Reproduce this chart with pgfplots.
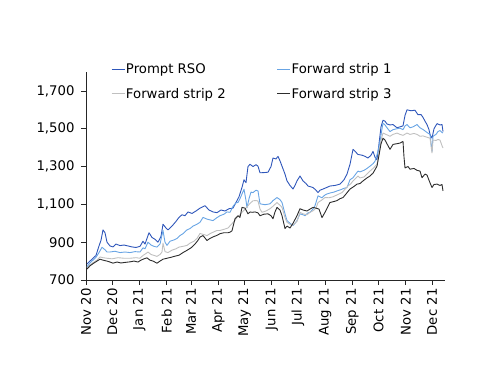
\documentclass[border=0pt]{standalone}
\usepackage{fontspec}
\setmainfont{DejaVu Sans}
\usepackage{pgfplots}
\pgfplotsset{compat=1.18}
\definecolor{rso}{RGB}{46,86,186}
\definecolor{fs1}{RGB}{104,164,228}
\definecolor{fs2}{RGB}{192,192,192}
\definecolor{fs3}{RGB}{45,45,45}
\begin{document}
\begin{tikzpicture}
\path[use as bounding box] (0,0) rectangle (500bp,386bp);
\begin{axis}[
  scale only axis, width=359bp, height=208bp,
  at={(86bp,106bp)}, anchor=south west,
  xmin=86, xmax=445, ymin=700, ymax=1800,
  axis x line*=bottom, axis y line*=left,
  axis line style={line width=0.8bp, black!85},
  tick align=outside, major tick length=5bp,
  tick style={line width=0.8bp, black!85},
  ytick={700,900,1100,1300,1500,1700},
  /pgf/number format/.cd, 1000 sep={,}, assume math mode=true, /pgfplots/.cd,
  xtick={86,112.3,139.4,166.6,191.1,218.3,244.6,271.7,298.0,325.1,352.3,378.6,405.7,432.0},
  xticklabels={Nov 20,Dec 20,Jan 21,Feb 21,Mar 21,Apr 21,May 21,Jun 21,Jul 21,Aug 21,Sep 21,Oct 21,Nov 21,Dec 21},
  tick label style={font=\fontsize{13.3}{15}\selectfont},
  xticklabel style={rotate=90, anchor=east},
  yticklabel style={xshift=-3bp},
  legend columns=2,
  legend cell align=left,
  legend style={draw=none, fill=none, at={(0.061,1.056)}, anchor=north west,
    font=\fontsize{13.3}{15}\selectfont, nodes={inner xsep=1bp, inner ysep=1bp},
    row sep=11bp, /tikz/every even column/.append style={column sep=50bp}},
  legend image code/.code={\draw[#1] (0bp,0bp) -- (13bp,0bp);},
  every axis plot/.append style={line width=0.9bp, line join=round},
]
\addplot[rso] coordinates {
(87,784)(90,800)(93,815)(96,830)(99,880)(101,910)(103,965)(105,950)(107,900)(110,880)
(113,875)(116,890)(120,882)(124,885)(128,880)(132,875)(136,872)(140,878)(143,905)(145,890)
(149,950)(152,925)(155,915)(158,900)(161,930)(163,995)(166,975)(168,965)(172,985)(176,1010)
(179,1031)(182,1045)(185,1040)(188,1060)(192,1052)(196,1065)(200,1080)(205,1093)(209,1070)(213,1060)
(217,1056)(221,1070)(225,1065)(229,1077)(233,1080)(236,1110)(239,1140)(242,1190)(244,1230)(246,1215)
(248,1300)(250,1312)(253,1300)(256,1310)(258,1302)(260,1267)(264,1268)(268,1270)(271,1300)(273,1345)
(276,1340)(278,1354)(280,1330)(282,1302)(285,1260)(287,1224)(290,1200)(293,1181)(295,1200)(297,1224)
(300,1250)(303,1224)(306,1210)(308,1197)(313,1189)(316,1175)(318,1162)(320,1175)(323,1181)(327,1190)
(330,1197)(335,1200)(340,1207)(344,1230)(347,1260)(350,1312)(353,1391)(356,1375)(358,1364)(362,1360)
(365,1354)(368,1345)(371,1360)(373,1380)(375,1350)(377,1335)(379,1420)(381,1510)(383,1545)(385,1540)
(387,1525)(390,1520)(393,1522)(397,1505)(400,1510)(403,1515)(405,1570)(407,1600)(411,1595)(415,1598)
(418,1574)(421,1575)(423,1560)(425,1540)(427,1522)(429,1495)(430,1470)(432,1450)(434,1500)(437,1527)
(440,1520)(442,1522)(443,1485)
};
\addlegendentry{Prompt RSO}
\addplot[fs1] coordinates {
(87,770)(90,790)(93,805)(96,820)(99,845)(102,873)(105,860)(107,848)(110,848)(115,852)
(120,845)(125,848)(130,845)(135,850)(140,848)(143,870)(145,865)(148,900)(151,885)(154,878)
(157,874)(160,890)(163,962)(165,900)(167,883)(170,905)(174,912)(177,920)(180,935)(183,945)
(187,965)(190,972)(193,985)(197,995)(200,1005)(203,1031)(207,1022)(210,1018)(213,1014)(217,1030)
(220,1040)(224,1048)(227,1060)(230,1058)(233,1090)(236,1108)(238,1110)(240,1130)(242,1155)(244,1180)
(246,1120)(247,1082)(249,1130)(251,1165)(253,1162)(256,1175)(258,1171)(260,1103)(265,1098)(270,1103)
(273,1120)(277,1136)(280,1125)(282,1110)(285,1050)(287,1014)(290,1000)(293,988)(295,1000)(297,1014)
(300,1050)(303,1045)(305,1040)(308,1055)(310,1058)(313,1075)(315,1093)(318,1145)(320,1140)(322,1135)
(325,1150)(327,1155)(330,1160)(334,1165)(337,1171)(341,1178)(344,1185)(347,1189)(350,1230)(353,1241)
(356,1262)(358,1276)(360,1272)(364,1280)(367,1290)(370,1302)(373,1315)(375,1328)(378,1380)(380,1433)
(382,1500)(383,1529)(385,1520)(387,1505)(390,1485)(393,1495)(397,1500)(400,1503)(403,1495)(405,1515)
(407,1522)(410,1505)(413,1510)(417,1522)(420,1505)(423,1496)(427,1480)(430,1470)(432,1380)(433,1460)
(436,1470)(438,1485)(440,1490)(442,1480)(443,1478)
};
\addlegendentry{Forward strip 1}
\addplot[fs2] coordinates {
(87,763)(90,780)(94,795)(97,805)(100,822)(103,818)(107,815)(112,812)(118,818)(124,815)
(130,815)(136,818)(140,815)(143,830)(146,840)(148,848)(151,835)(154,830)(157,825)(160,835)
(162,848)(163,895)(165,850)(168,845)(172,858)(176,865)(179,874)(183,878)(187,883)(190,895)
(194,905)(197,920)(200,946)(204,940)(207,935)(210,945)(214,955)(217,962)(220,962)(224,968)
(228,975)(232,998)(235,1015)(237,1031)(240,1045)(242,1058)(245,1075)(248,1093)(250,1105)(253,1119)
(256,1120)(258,1118)(260,1075)(262,1058)(266,1065)(270,1077)(273,1090)(277,1110)(280,1095)(282,1084)
(285,1030)(287,1005)(290,995)(292,988)(295,1000)(297,1010)(300,1058)(303,1050)(307,1045)(310,1058)
(313,1066)(316,1080)(318,1110)(321,1120)(325,1136)(329,1135)(333,1140)(337,1150)(342,1162)(345,1180)
(348,1197)(351,1210)(353,1224)(356,1240)(358,1250)(360,1240)(364,1245)(367,1260)(370,1276)(373,1290)
(377,1312)(379,1370)(381,1440)(383,1477)(386,1470)(390,1460)(393,1470)(397,1477)(400,1470)(403,1465)
(407,1477)(410,1470)(414,1475)(417,1470)(420,1460)(423,1462)(427,1455)(430,1450)(432,1372)(433,1440)
(436,1438)(438,1443)(440,1440)(442,1410)(443,1398)
};
\addlegendentry{Forward strip 2}
\addplot[fs3] coordinates {
(87,758)(90,775)(94,790)(97,800)(100,810)(103,805)(107,800)(110,795)(113,789)(117,795)
(121,790)(125,793)(130,796)(134,800)(138,795)(141,805)(144,812)(147,817)(150,805)(153,800)
(157,789)(160,800)(163,810)(167,815)(171,820)(175,826)(179,831)(183,845)(187,857)(191,870)
(195,890)(198,910)(200,927)(203,935)(207,909)(210,920)(214,930)(217,936)(220,945)(224,950)
(228,950)(230,953)(232,960)(235,1024)(238,1040)(240,1031)(242,1084)(245,1080)(248,1050)(250,1060)
(252,1058)(255,1060)(258,1055)(260,1040)(264,1048)(268,1050)(271,1040)(273,1024)(275,1060)(277,1084)
(280,1070)(282,1040)(285,972)(287,985)(290,975)(293,1000)(295,1020)(297,1040)(300,1077)(303,1070)
(307,1065)(310,1075)(313,1084)(316,1080)(319,1075)(322,1030)(325,1058)(328,1090)(330,1110)(334,1115)
(337,1120)(340,1130)(343,1136)(346,1155)(350,1181)(354,1195)(357,1207)(360,1210)(363,1224)(367,1240)
(370,1250)(373,1265)(377,1302)(379,1360)(381,1420)(383,1450)(385,1440)(387,1420)(390,1391)(393,1417)
(396,1420)(400,1424)(403,1433)(404,1350)(405,1293)(408,1300)(410,1286)(414,1290)(417,1280)(420,1276)
(422,1241)(425,1260)(427,1255)(430,1214)(432,1189)(434,1205)(437,1207)(440,1200)(442,1205)(443,1171)
};
\addlegendentry{Forward strip 3}
\end{axis}
\end{tikzpicture}
\end{document}
